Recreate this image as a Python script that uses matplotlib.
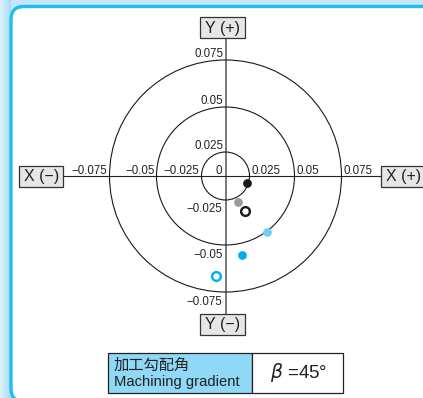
import numpy as np
import matplotlib
matplotlib.use("Agg")
import matplotlib.pyplot as plt
from matplotlib.patches import Circle, Rectangle, FancyBboxPatch

plt.rcParams['font.family'] = ['Liberation Sans', 'DejaVu Sans']

# reference rings (values) and the radius each is drawn at (px)
ring_values = [0.025, 0.05, 0.075]
ring_px = [24, 69, 116]

tick_labels = ['0.025', '0.05', '0.075']

# measured points (x, y) in axis units
pt_x = [0.0229, 0.0135, 0.0198, 0.0348, 0.0174, -0.0094]
pt_y = [-0.0076, -0.0261, -0.0311, -0.0428, -0.0552, -0.0665]
pt_color = ['#1a1a1a', '#9a9a9a', '#1a1a1a', '#6fd0f6', '#00aeef', '#00aeef']
pt_filled = [True, True, False, True, True, False]

cx, cy = 225.5, 176.0


def to_px(v):
    v = np.asarray(v, dtype=float)
    return np.sign(v) * np.interp(np.abs(v), [0] + ring_values, [0] + ring_px)


fig = plt.figure(figsize=(4.23, 3.98), dpi=100)
fig.patch.set_facecolor('#c4e8f9')
ax = fig.add_axes([0, 0, 1, 1])
ax.set_xlim(0, 423)
ax.set_ylim(398, 0)
ax.axis('off')

# soft gradient strip on the left
grad = np.linspace(0, 1, 50).reshape(1, -1)
ax.imshow(grad, extent=(0, 11, 398, 0), cmap=matplotlib.colors.LinearSegmentedColormap.from_list(
    'g', ['#dcf2fc', '#a8dcf4']), aspect='auto', zorder=0)

frame = FancyBboxPatch((11, 6.5), 460, 395, boxstyle='round,pad=0,rounding_size=13',
                       facecolor='white', edgecolor='#1fbdf2', lw=2.4, zorder=1)
ax.add_patch(frame)

# axes lines
ax.plot([cx, cx], [38, 314], color='#555555', lw=1.1, zorder=2)
ax.plot([63, 381], [cy, cy], color='#222222', lw=0.8, zorder=2)

for r in ring_px:
    ax.add_patch(Circle((cx, cy), r, fill=False, edgecolor='#1a1a1a', lw=0.8, zorder=2))

# tick labels
fs = 8.3
for lab, r in zip(tick_labels, ring_px):
    ax.text(cx - 2, cy - r - 6, lab, ha='right', va='center', fontsize=fs, color='#222222')
    ax.text(cx + r + 2, cy - 5, lab, ha='left', va='center', fontsize=fs, color='#222222')
    ax.text(cx - r - 2, cy - 5, '\u2212' + lab, ha='right', va='center', fontsize=fs, color='#222222')
ax.text(cx - 3, cy - 5, '0', ha='right', va='center', fontsize=fs, color='#222222')
neg_y_pos = [209.5, 254.5, 302]
for lab, yy in zip(tick_labels, neg_y_pos):
    ax.text(cx - 3, yy, '\u2212' + lab, ha='right', va='center', fontsize=fs, color='#222222')

# axis name boxes
boxes = [('Y (+)', 200, 17, 45, 21), ('Y (\u2212)', 200, 314, 45, 21),
         ('X (\u2212)', 19, 166, 44, 21), ('X (+)', 381, 166, 50, 21)]
for txt, bx, by, bw, bh in boxes:
    ax.add_patch(Rectangle((bx, by), bw, bh, facecolor='#e6e6e6', edgecolor='#333333', lw=0.9, zorder=3))
    ax.text(bx + 22.5, by + bh / 2 + 0.5, txt, ha='center', va='center', fontsize=11.5,
            color='#222222', zorder=4)

# points
px = cx + to_px(pt_x)
py = cy - to_px(pt_y)
for x, y, c, f in zip(px, py, pt_color, pt_filled):
    if f:
        ax.plot(x, y, 'o', ms=6.3, mfc=c, mec=c, mew=0, zorder=5)
    else:
        ax.plot(x, y, 'o', ms=6.3, mfc='white', mec=c, mew=1.7, zorder=5)

# table
ax.add_patch(Rectangle((107.5, 352.5), 144.5, 40, facecolor='#8fd8f6', edgecolor='#222222', lw=0.9, zorder=3))
ax.add_patch(Rectangle((252, 352.5), 91, 40, facecolor='white', edgecolor='#222222', lw=0.9, zorder=3))
ax.text(114, 365, '加工勾配角', ha='left', va='center', fontsize=11,
        family=['Noto Sans CJK JP', 'DejaVu Sans'], color='#222222', zorder=4)
ax.text(114, 382, 'Machining gradient', ha='left', va='center', fontsize=10.6, color='#222222', zorder=4)
ax.text(299, 373, r'$\it{\beta}$ =45°', ha='center', va='center', fontsize=13.5, color='#222222', zorder=4)

fig.savefig('out.png', dpi=100, facecolor=fig.get_facecolor())
